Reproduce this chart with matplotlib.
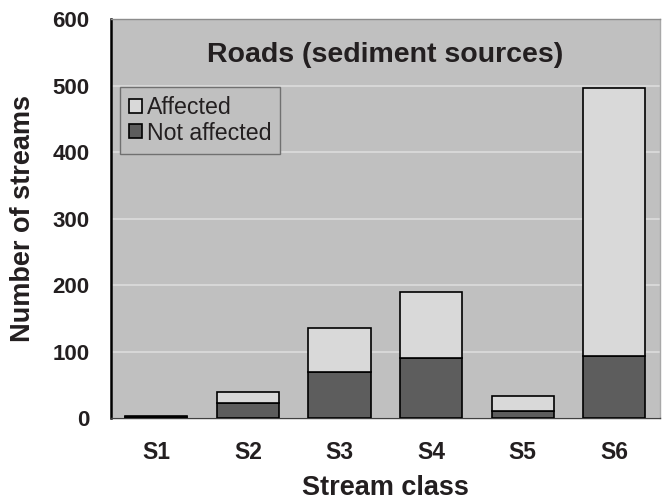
import numpy as np
import matplotlib.pyplot as plt

plt.rcParams['font.family'] = ['Liberation Sans', 'DejaVu Sans']

# Streams per class, split by road influence
classes = ['S1', 'S2', 'S3', 'S4', 'S5', 'S6']
not_affected = [2, 23, 69, 90, 11, 93]
affected = [1, 17, 67, 100, 22, 403]

fig = plt.figure(figsize=(6.66, 5.04), dpi=100)
ax = fig.add_axes([0.166, 0.170, 0.825, 0.792])
ax.set_facecolor('#c0c0c0')

x = np.arange(len(classes))
w = 0.68
ax.bar(x, not_affected, w, color='#5d5d5d', edgecolor='black', linewidth=1.2,
       label='Not affected', zorder=3)
ax.bar(x, affected, w, bottom=not_affected, color='#d9d9d9', edgecolor='black',
       linewidth=1.2, label='Affected', zorder=3)

ax.set_xlim(-0.5, len(classes) - 0.5)
ax.set_ylim(0, 600)
ax.set_yticks(range(0, 601, 100))
ax.yaxis.grid(True, color='#dcdcdc', linewidth=1.2, zorder=0)
ax.set_axisbelow(True)

ax.set_xticks(x)
ax.set_xticklabels(classes, fontsize=16.5, fontweight='bold', color='#231f20')
ax.tick_params(axis='x', length=0, pad=16)
ax.tick_params(axis='y', length=0, pad=15, labelsize=16, labelcolor='#231f20')
for t in ax.get_yticklabels():
    t.set_fontweight('bold')

ax.spines['left'].set_color('black')
ax.spines['left'].set_linewidth(1.8)
ax.spines['bottom'].set_color('#404040')
ax.spines['bottom'].set_linewidth(1.0)
ax.spines['top'].set_color('#8c8c8c')
ax.spines['top'].set_linewidth(1.0)
ax.spines['right'].set_color('#a8a8a8')
ax.spines['right'].set_linewidth(1.0)

ax.set_xlabel('Stream class', fontsize=19.5, fontweight='bold', color='#231f20', labelpad=8)
ax.set_ylabel('Number of streams', fontsize=19.5, fontweight='bold', color='#231f20', labelpad=12)

ax.text(0.5, 0.892, 'Roads (sediment sources)', transform=ax.transAxes,
        ha='center', va='baseline', fontsize=20.5, fontweight='bold', color='#231f20')

handles, labels = ax.get_legend_handles_labels()
leg = ax.legend(handles[::-1], labels[::-1], loc='upper left',
                bbox_to_anchor=(0.017, 0.83), fontsize=16.7, frameon=True,
                fancybox=False, framealpha=1, facecolor='#c0c0c0',
                edgecolor='#707070', handlelength=0.55, handleheight=0.55,
                handletextpad=0.2, borderpad=0.4, labelspacing=0.1,
                borderaxespad=0)
leg.get_frame().set_linewidth(1.0)
for t in leg.get_texts():
    t.set_color('#231f20')

fig.savefig('out.png', dpi=100)
